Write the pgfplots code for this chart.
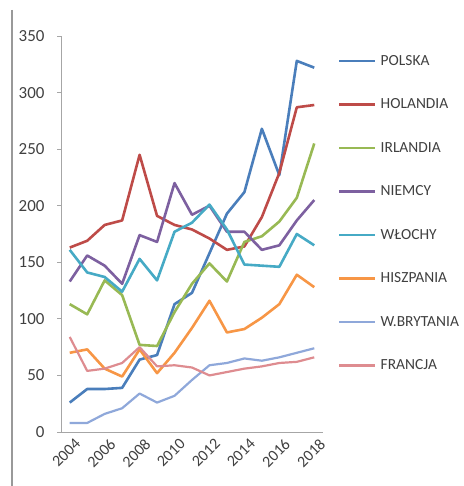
\documentclass[border=0pt]{standalone}
\usepackage{pgfplots}
\pgfplotsset{compat=1.18}
\usepackage{fontspec}
\setmainfont{Carlito}
\definecolor{cpl}{HTML}{4A7EBB}
\definecolor{cho}{HTML}{BE4B48}
\definecolor{cir}{HTML}{98B954}
\definecolor{cni}{HTML}{7D60A0}
\definecolor{cwl}{HTML}{46AAC5}
\definecolor{chi}{HTML}{F79646}
\definecolor{cwb}{HTML}{8FA8DA}
\definecolor{cfr}{HTML}{DE8C90}
\definecolor{axgray}{HTML}{A6A6A6}
\begin{document}
\begin{tikzpicture}
\useasboundingbox (-61bp,-54bp) rectangle (403bp,432bp);
\draw[color=gray!80, line width=2bp] (-49bp,422bp) -- (-49bp,-54bp);
\begin{axis}[
  at={(0,0)}, anchor=south west,
  scale only axis, width=262bp, height=396bp,
  xmin=2003.5, xmax=2018.5, ymin=0, ymax=350,
  axis x line*=bottom, axis y line*=left,
  axis line style={axgray, line width=0.8bp},
  xtick={2004,2006,...,2018},
  xticklabels={2004,2006,2008,2010,2012,2014,2016,2018},
  major x tick style={draw=none},
  extra x ticks={2003.5,2004.5,...,2018.5},
  extra x tick labels={},
  extra x tick style={tick align=outside, major tick length=5bp, tick style={axgray, line width=0.8bp}},
  ytick={0,50,...,350},
  tick align=outside, major tick length=4bp,
  tick style={axgray, line width=0.8bp},
  /pgf/number format/assume math mode=true,
  /pgf/number format/1000 sep={},
  yticklabel style={font=\fontsize{17}{17}\selectfont, text=black!75, xshift=-9bp},
  xticklabel style={font=\fontsize{16}{16}\selectfont, text=black!75, rotate=45, anchor=north east, inner sep=1bp, xshift=3bp, yshift=-3bp},
  legend cell align=left,
  legend style={at={(1.057,0.955)}, anchor=north west, draw=none, fill=none, inner sep=0pt,
     row sep=29.5bp, font=\fontsize{15.5}{15.5}\selectfont,
     nodes={inner sep=0pt, text height=11bp, text depth=3bp, text=black!75},
     /tikz/every even column/.append style={column sep=0bp}},
  legend image code/.code={\draw[#1] (0bp,0bp) -- (36bp,0bp); \path (40bp,0bp);},
  every axis plot/.append style={line width=2.6bp, line join=round},
]
\addplot[cpl] coordinates {(2004,26)(2005,38)(2006,38)(2007,39)(2008,64)(2009,68)(2010,113)(2011,123)(2012,158)(2013,193)(2014,212)(2015,268)(2016,227)(2017,328)(2018,322)};
\addlegendentry{POLSKA}
\addplot[cho] coordinates {(2004,163)(2005,169)(2006,183)(2007,187)(2008,245)(2009,191)(2010,183)(2011,179)(2012,171)(2013,161)(2014,164)(2015,190)(2016,229)(2017,287)(2018,289)};
\addlegendentry{HOLANDIA}
\addplot[cir] coordinates {(2004,113)(2005,104)(2006,134)(2007,121)(2008,77)(2009,76)(2010,106)(2011,131)(2012,149)(2013,133)(2014,168)(2015,173)(2016,186)(2017,207)(2018,255)};
\addlegendentry{IRLANDIA}
\addplot[cni] coordinates {(2004,133)(2005,156)(2006,147)(2007,131)(2008,174)(2009,168)(2010,220)(2011,192)(2012,200)(2013,177)(2014,177)(2015,161)(2016,165)(2017,187)(2018,205)};
\addlegendentry{NIEMCY}
\addplot[cwl] coordinates {(2004,161)(2005,141)(2006,137)(2007,124)(2008,153)(2009,134)(2010,177)(2011,185)(2012,201)(2013,179)(2014,148)(2015,147)(2016,146)(2017,175)(2018,165)};
\addlegendentry{WŁOCHY}
\addplot[chi] coordinates {(2004,70)(2005,73)(2006,56)(2007,49)(2008,73)(2009,52)(2010,70)(2011,92)(2012,116)(2013,88)(2014,91)(2015,101)(2016,113)(2017,139)(2018,128)};
\addlegendentry{HISZPANIA}
\addplot[cwb, line width=2.2bp] coordinates {(2004,8)(2005,8)(2006,16)(2007,21)(2008,34)(2009,26)(2010,32)(2011,46)(2012,59)(2013,61)(2014,65)(2015,63)(2016,66)(2017,70)(2018,74)};
\addlegendentry{W.BRYTANIA}
\addplot[cfr, line width=2.2bp] coordinates {(2004,84)(2005,54)(2006,56)(2007,61)(2008,75)(2009,58)(2010,59)(2011,57)(2012,50)(2013,53)(2014,56)(2015,58)(2016,61)(2017,62)(2018,66)};
\addlegendentry{FRANCJA}
\end{axis}
\end{tikzpicture}
\end{document}
